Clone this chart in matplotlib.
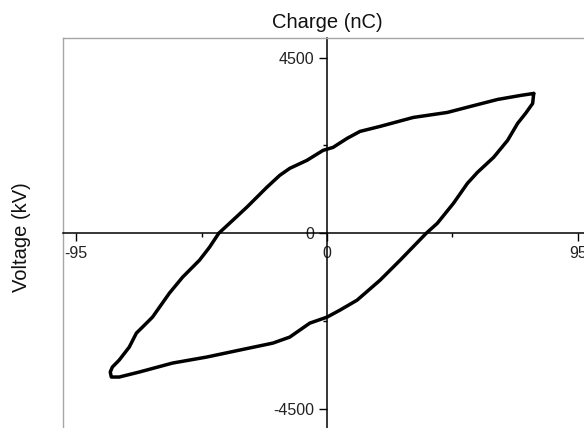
import matplotlib
matplotlib.use("Agg")
import matplotlib.pyplot as plt
from matplotlib.lines import Line2D

plt.rcParams['font.family'] = ['Liberation Sans', 'DejaVu Sans']

# Lissajous (Q-V) loop
charge_nC = [78.3, 77.9, 75.2, 72.2, 68.4, 63.1, 57.0, 53.2, 47.9, 41.8, 37.6, 27.7,
             20.1, 11.4, 4.9, 0.0, -6.5, -10.3, -14.1, -20.5, -33.1, -45.6, -58.5,
             -71.1, -78.7, -81.7, -82.1, -81.3, -78.7, -74.9, -72.2, -69.9, -66.1,
             -59.7, -54.7, -48.3, -44.5, -41.0, -36.9, -30.4, -22.8, -17.9, -14.1,
             -7.6, -1.5, 2.3, 7.6, 12.5, 20.1, 32.7, 45.6, 54.3, 64.6, 73.3, 78.3]
voltage_kV = [3580, 3324, 3068, 2813, 2378, 1943, 1560, 1279, 767, 256, 0, -690,
              -1202, -1713, -1969, -2148, -2301, -2480, -2659, -2813, -2992, -3171, -3324,
              -3554, -3682, -3682, -3554, -3426, -3247, -2915, -2557, -2404, -2148,
              -1534, -1125, -690, -358, 0, 256, 665, 1176, 1483, 1662,
              1867, 2122, 2199, 2429, 2608, 2736, 2966, 3094, 3247, 3426, 3529, 3580]

x_major = [-95, 0, 95]
x_major_labels = ["-95", "0", "95"]
x_minor = [-47.5, 47.5]
y_major = [-4500, 0, 4500]
y_major_labels = ["-4500", "0", "4500"]
y_minor = [-2250, 2250]

fig = plt.figure(figsize=(5.84, 4.28), dpi=100)
ax = fig.add_axes([63/584, -0.5/428, 528/584, 390.5/428])

ax.plot(charge_nC, voltage_kV, color='black', lw=2.5, solid_joinstyle='round',
        solid_capstyle='round')

ax.set_xlim(-100, 100)
ax.set_ylim(-5000, 5000)

for s in ['left', 'bottom']:
    ax.spines[s].set_position(('data', 0))
    ax.spines[s].set_color('black')
    ax.spines[s].set_linewidth(1.1)
for s in ['top', 'right']:
    ax.spines[s].set_color('#a6a6a6')
    ax.spines[s].set_linewidth(1.0)
ax.add_line(Line2D([0, 0], [0, 1], transform=ax.transAxes, color='#a6a6a6',
                   lw=1.0, clip_on=False))

ax.set_xticks(x_major)
ax.set_xticklabels(x_major_labels)
ax.set_xticks(x_minor, minor=True)
ax.set_yticks(y_major)
ax.set_yticklabels(y_major_labels)
ax.set_yticks(y_minor, minor=True)
ax.tick_params(which='major', direction='out', length=6, width=1.0, labelsize=11.5,
               pad=3, colors='black')
ax.tick_params(which='minor', direction='out', length=3, width=1.0)
ax.tick_params(axis='y', labelcolor='#222222')
ax.tick_params(axis='x', labelcolor='#222222')

ax.set_title("Charge (nC)", fontsize=14.5, pad=7, color='#111111')
fig.text(22/584, 1 - 237/428, "Voltage (kV)", rotation=90, ha='center', va='center',
         fontsize=14.5, color='#111111')

fig.savefig("out.png", dpi=100)
